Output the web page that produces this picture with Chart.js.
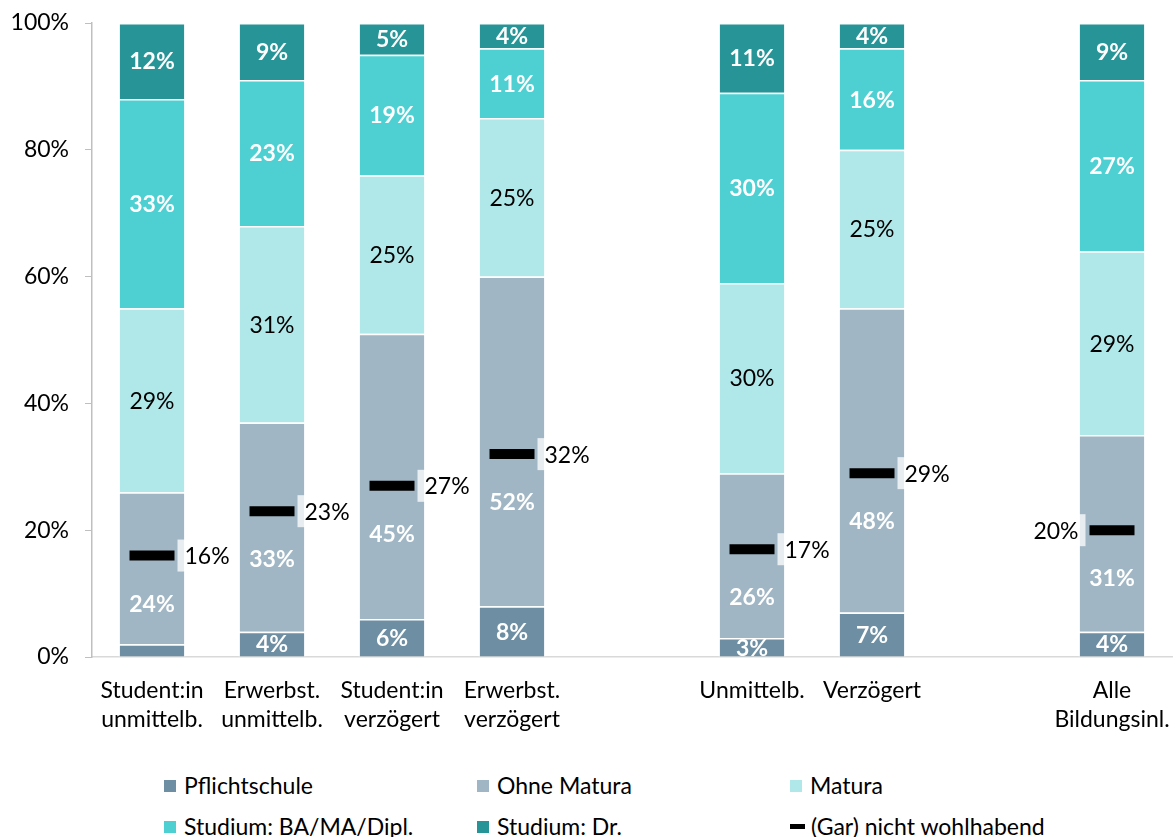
<!DOCTYPE html>
<html>
<head>
<meta charset="utf-8">
<script src="https://cdn.jsdelivr.net/npm/chart.js@4.4.1/dist/chart.umd.min.js"></script>
<style>
  body { margin: 0; background: #fff; font-family: Lato, sans-serif; overflow: hidden; }
  #wrap { position: relative; width: 1176px; height: 745px; }
  #legend { position: absolute; top: 770px; left: 0; width: 1176px; font-size: 23px; color: #000; }
  .item { position: absolute; height: 30px; line-height: 30px; white-space: nowrap; }
  .box { display: inline-block; width: 12px; height: 12px; margin-right: 8px; vertical-align: 2px; }
  .dash { display: inline-block; width: 15px; height: 5px; background: #000; margin-right: 6px; vertical-align: 6px; }
</style>
</head>
<body>
<div id="wrap"><canvas id="chart"></canvas></div>
<div id="legend"></div>
<script>
// categories ('' = gap between groups)
var labels = [
  ['Student:in', 'unmittelb.'],
  ['Erwerbst.', 'unmittelb.'],
  ['Student:in', 'verzögert'],
  ['Erwerbst.', 'verzögert'],
  '',
  'Unmittelb.',
  'Verzögert',
  '',
  ['Alle', 'Bildungsinl.']
];

var pflichtschule = [2, 4, 6, 8, null, 3, 7, null, 4];
var ohneMatura    = [24, 33, 45, 52, null, 26, 48, null, 31];
var matura        = [29, 31, 25, 25, null, 30, 25, null, 29];
var studiumBA     = [33, 23, 19, 11, null, 30, 16, null, 27];
var studiumDr     = [12, 9, 5, 4, null, 11, 4, null, 9];
var nichtWohlhabend = [16, 23, 27, 32, null, 17, 29, null, 20];

var FONT = 'Lato, sans-serif';
var FS = 23;

function bar(label, data, color, txtColor, bold) {
  return {
    type: 'bar', label: label, data: data, backgroundColor: color,
    borderColor: '#ffffff', borderWidth: 1.5, stack: 'bil', order: 1,
    txtColor: txtColor, bold: bold
  };
}

var datasets = [
  bar('Pflichtschule', pflichtschule, '#6e8fa3', '#ffffff', true),
  bar('Ohne Matura', ohneMatura, '#a0b6c4', '#ffffff', true),
  bar('Matura', matura, '#b0e8ea', '#000000', false),
  bar('Studium: BA/MA/Dipl.', studiumBA, '#4ed0d3', '#ffffff', true),
  bar('Studium: Dr.', studiumDr, '#279597', '#ffffff', true),
  {
    type: 'line', label: '(Gar) nicht wohlhabend', data: nichtWohlhabend,
    stack: 'marker', order: 0, showLine: false,
    pointStyle: 'line', pointRadius: 22.5, pointHoverRadius: 22.5,
    borderColor: '#000000', pointBorderWidth: 10, backgroundColor: '#000000'
  }
];
// the "Ohne Matura" label sits under the black marker instead of the middle
datasets[1].underMarker = true;

// draws the value labels
var valueLabels = {
  id: 'valueLabels',
  afterDatasetsDraw: function(chart) {
    var ctx = chart.ctx;
    var y = chart.scales.y;
    ctx.save();
    ctx.textBaseline = 'middle';
    chart.data.datasets.forEach(function(ds, di) {
      var meta = chart.getDatasetMeta(di);
      meta.data.forEach(function(el, i) {
        var v = ds.data[i];
        if (v == null) return;
        if (ds.type === 'bar') {
          if (v < 3) return;
          ctx.font = (ds.bold ? 'bold ' : '') + FS + 'px ' + FONT;
          ctx.fillStyle = ds.txtColor;
          ctx.textAlign = 'center';
          var ty = (el.y + el.base) / 2;
          if (ds.underMarker) ty = y.getPixelForValue(nichtWohlhabend[i] - 7.5);
          ctx.fillText(v + '%', el.x, ty + 1);
        } else {
          ctx.font = FS + 'px ' + FONT;
          var t = v + '%';
          var w = ctx.measureText(t).width;
          var left = i === chart.data.labels.length - 1;
          var bx = left ? el.x - 22.5 - 4 - w - 14 : el.x + 22.5 + 3;
          ctx.fillStyle = 'rgba(255,255,255,0.75)';
          ctx.fillRect(bx, el.y - 16, w + 14, 32);
          ctx.fillStyle = '#000000';
          ctx.textAlign = 'left';
          ctx.fillText(t, bx + 7, el.y + 1);
        }
      });
    });
    ctx.restore();
  }
};

new Chart(document.getElementById('chart'), {
  data: { labels: labels, datasets: datasets },
  options: {
    responsive: true,
    maintainAspectRatio: false,
    animation: false,
    layout: { autoPadding: false, padding: { top: 23, right: 4, left: 0, bottom: 0 } },
    plugins: {
      legend: { display: false },
      tooltip: { enabled: false }
    },
    datasets: { bar: { barPercentage: 1, categoryPercentage: 0.56 } },
    scales: {
      x: {
        stacked: true,
        grid: { display: false },
        border: { display: true, color: '#d9d9d9', width: 1.5 },
        ticks: {
          color: '#000', autoSkip: false, maxRotation: 0, padding: 12,
          font: { family: FONT, size: FS, lineHeight: 1.22 }
        },
        afterFit: function(s) { s.height = 88; s.paddingLeft = 0; s.paddingRight = 0; }
      },
      y: {
        stacked: true, min: 0, max: 100,
        grid: { drawOnChartArea: false, tickLength: 7, color: '#bfbfbf' },
        border: { display: true, color: '#bfbfbf', width: 1.5 },
        ticks: {
          stepSize: 20, color: '#000', padding: 16,
          font: { family: FONT, size: FS },
          callback: function(v) { return v + '%'; }
        },
        afterFit: function(s) { s.width = 92; s.paddingTop = 0; s.paddingBottom = 0; }
      }
    }
  },
  plugins: [valueLabels]
});

// legend in three columns like the original
var legendPos = [[164, 0], [477, 0], [790, 0], [164, 41], [477, 41], [790, 41]];
var lg = document.getElementById('legend');
datasets.forEach(function(ds, i) {
  var d = document.createElement('div');
  d.className = 'item';
  d.style.left = legendPos[i][0] + 'px';
  d.style.top = legendPos[i][1] + 'px';
  var mark = document.createElement('span');
  if (ds.type === 'bar') { mark.className = 'box'; mark.style.background = ds.backgroundColor; }
  else { mark.className = 'dash'; }
  d.appendChild(mark);
  d.appendChild(document.createTextNode(ds.label));
  lg.appendChild(d);
});
</script>
</body>
</html>
